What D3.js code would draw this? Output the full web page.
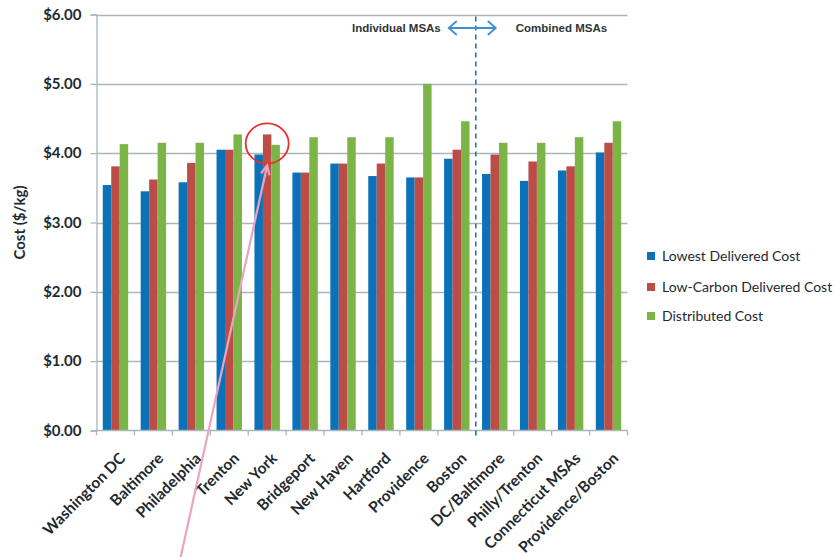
<!DOCTYPE html>
<html>
<head>
<meta charset="utf-8">
<script src="https://cdn.jsdelivr.net/npm/d3@7"></script>
<style>
  html, body { margin: 0; padding: 0; background: #fff; }
  svg { display: block; }
  text { font-family: Lato, "Open Sans", sans-serif; }
</style>
</head>
<body>
<svg id="chart" width="835" height="557"></svg>
<script>
// Delivered hydrogen cost per metro area ($/kg)
const categories = ["Washington DC", "Baltimore", "Philadelphia", "Trenton", "New York", "Bridgeport",
  "New Haven", "Hartford", "Providence", "Boston", "DC/Baltimore", "Philly/Trenton",
  "Connecticut MSAs", "Providence/Boston"];
const lowestDelivered = [3.54, 3.45, 3.58, 4.05, 3.98, 3.72, 3.85, 3.67, 3.65, 3.92, 3.70, 3.60, 3.75, 4.01];
const lowCarbonDelivered = [3.81, 3.62, 3.86, 4.05, 4.27, 3.72, 3.85, 3.85, 3.65, 4.05, 3.98, 3.88, 3.81, 4.15];
const distributed = [4.13, 4.15, 4.15, 4.27, 4.12, 4.23, 4.23, 4.23, 5.00, 4.46, 4.15, 4.15, 4.23, 4.46];
const seriesNames = ["Lowest Delivered Cost", "Low-Carbon Delivered Cost", "Distributed Cost"];
const yTicks = [0, 1, 2, 3, 4, 5, 6];

const colors = ["#0b71b9", "#bc4c46", "#7bb547"];
const series = [lowestDelivered, lowCarbonDelivered, distributed];

const svg = d3.select("#chart");
const plotLeft = 96.5, plotRight = 627.5, plotTop = 14.5, plotBottom = 430.5;

const x = d3.scaleBand().domain(categories).range([plotLeft, plotRight]).paddingInner(0.33).paddingOuter(0.165);
const y = d3.scaleLinear().domain([0, 6]).range([plotBottom, plotTop]);
const xs = d3.scaleBand().domain(d3.range(series.length)).range([0, x.bandwidth()]);

const gridColor = "#a9b6bc";
const textColor = "#1e2a30";

// horizontal gridlines
svg.append("g").selectAll("line").data(yTicks.filter(d => d > 0)).join("line")
  .attr("x1", plotLeft).attr("x2", plotRight)
  .attr("y1", d => Math.round(y(d)) + 0.5).attr("y2", d => Math.round(y(d)) + 0.5)
  .attr("stroke", gridColor).attr("stroke-width", 1.3);

// bars
const step = (plotRight - plotLeft) / categories.length;
series.forEach((vals, si) => {
  svg.append("g").selectAll("rect").data(categories).join("rect")
    .attr("x", (c) => x(c) + xs(si))
    .attr("width", xs.bandwidth())
    .attr("y", (c, i) => y(vals[i]))
    .attr("height", (c, i) => y(0) - y(vals[i]))
    .attr("fill", colors[si]);
});

// y axis
const yAxis = d3.axisLeft(y).tickValues(yTicks).tickFormat(d => "$" + d3.format(".2f")(d)).tickSize(6).tickPadding(9);
const gy = svg.append("g").attr("transform", `translate(${plotLeft},0)`).call(yAxis);
gy.select(".domain").attr("stroke", gridColor).attr("stroke-width", 1.3);
gy.selectAll(".tick line").attr("stroke", gridColor).attr("stroke-width", 1.3);
gy.selectAll(".tick text").attr("font-size", 15).attr("font-weight", 700).attr("fill", textColor)
  .style("font-family", "Lato, 'Open Sans', sans-serif");

// x axis with ticks on category boundaries
svg.append("line").attr("x1", plotLeft).attr("x2", plotRight).attr("y1", plotBottom).attr("y2", plotBottom)
  .attr("stroke", gridColor).attr("stroke-width", 1.3);
svg.append("g").selectAll("line").data(d3.range(categories.length + 1)).join("line")
  .attr("x1", i => plotLeft + i * step).attr("x2", i => plotLeft + i * step)
  .attr("y1", plotBottom).attr("y2", plotBottom + 5)
  .attr("stroke", gridColor).attr("stroke-width", 1.3);

svg.append("g").selectAll("text").data(categories).join("text")
  .attr("transform", c => `translate(${x(c) + x.bandwidth() / 2 + 7},${plotBottom + 25}) rotate(-45)`)
  .attr("text-anchor", "end")
  .attr("dy", "0.35em")
  .attr("font-size", 15.5).attr("font-weight", 700).attr("fill", textColor)
  .text(c => c);

// y title
svg.append("text")
  .attr("transform", `translate(20,${(plotTop + plotBottom) / 2}) rotate(-90)`)
  .attr("text-anchor", "middle")
  .attr("dy", "0.35em")
  .attr("font-size", 15).attr("font-weight", 700).attr("fill", textColor)
  .text("Cost ($/kg)");

// divider between individual and combined MSAs
const divX = plotLeft + 10 * step;
svg.append("line").attr("x1", divX).attr("x2", divX).attr("y1", plotTop + 2).attr("y2", plotBottom + 6)
  .attr("stroke", "#1f74c0").attr("stroke-width", 1.6).attr("stroke-dasharray", "5,4");

const arrowY = 28;
const blue = "#3c8ed6";
svg.append("line").attr("x1", divX - 27).attr("x2", divX + 20).attr("y1", arrowY).attr("y2", arrowY)
  .attr("stroke", blue).attr("stroke-width", 1.8);
svg.append("path").attr("d", `M${divX - 19},${arrowY - 7} L${divX - 27},${arrowY} L${divX - 19},${arrowY + 7}`)
  .attr("fill", "none").attr("stroke", blue).attr("stroke-width", 1.8);
svg.append("path").attr("d", `M${divX + 12},${arrowY - 7} L${divX + 20},${arrowY} L${divX + 12},${arrowY + 7}`)
  .attr("fill", "none").attr("stroke", blue).attr("stroke-width", 1.8);

const noteFont = "'Liberation Sans', Arial, sans-serif";
svg.append("text").attr("x", divX - 35).attr("y", arrowY).attr("dy", "0.35em")
  .attr("text-anchor", "end").attr("font-size", 11.5).attr("font-weight", 700)
  .style("font-family", noteFont).attr("fill", "#2e3438").text("Individual MSAs");
svg.append("text").attr("x", divX + 40).attr("y", arrowY).attr("dy", "0.35em")
  .attr("text-anchor", "start").attr("font-size", 11.5).attr("font-weight", 700)
  .style("font-family", noteFont).attr("fill", "#2e3438").text("Combined MSAs");

// highlight of New York low-carbon bar
const nyIdx = categories.indexOf("New York");
const cx = x("New York") + xs(1) + xs.bandwidth() / 2;
const cy = y(lowCarbonDelivered[nyIdx]) + 9;
svg.append("ellipse").attr("cx", cx).attr("cy", cy).attr("rx", 21.5).attr("ry", 20)
  .attr("fill", "none").attr("stroke", "#e8302a").attr("stroke-width", 1.8);

// pink pointer arrow
const pink = "#e7a5c3";
const tipX = cx, tipY = cy + 22;
const startX = 180, startY = 560;
svg.append("line").attr("x1", startX).attr("y1", startY).attr("x2", tipX).attr("y2", tipY)
  .attr("stroke", pink).attr("stroke-width", 2.2);
const ang = Math.atan2(tipY - startY, tipX - startX);
const head = 10, spread = 0.45;
svg.append("path")
  .attr("d", `M${tipX - head * Math.cos(ang - spread)},${tipY - head * Math.sin(ang - spread)} L${tipX},${tipY} L${tipX - head * Math.cos(ang + spread)},${tipY - head * Math.sin(ang + spread)}`)
  .attr("fill", "none").attr("stroke", pink).attr("stroke-width", 2.2);

// legend
const legend = svg.append("g").attr("transform", "translate(647,0)");
const legendY = [256, 287, 316];
seriesNames.forEach((name, i) => {
  legend.append("rect").attr("x", 0).attr("y", legendY[i] - 4).attr("width", 8).attr("height", 8).attr("fill", colors[i]);
  legend.append("text").attr("x", 15).attr("y", legendY[i]).attr("dy", "0.35em")
    .attr("font-size", 14).attr("fill", textColor).text(name);
});
</script>
</body>
</html>
